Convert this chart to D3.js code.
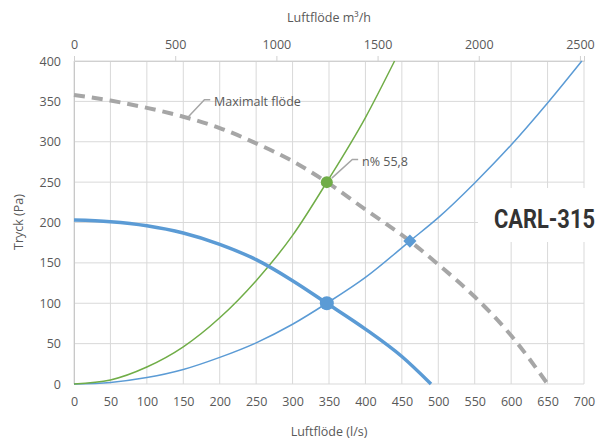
<!DOCTYPE html>
<html><head><meta charset="utf-8">
<script src="https://cdn.jsdelivr.net/npm/d3@7"></script>
<style>
body{margin:0;background:#fff;}
svg text{font-family:"Open Sans","Liberation Sans",sans-serif;fill:#595959;}
</style></head>
<body><svg id="c" width="600" height="441"></svg>
<script>
// Data (flow in l/s, pressure in Pa)
const fanFlow = [0, 50, 100, 150, 200, 250, 300, 347, 400, 450, 490];
const fanPressure = [203, 201, 196, 187, 173, 154, 128, 100, 68, 34, 0];
const sysFlow = [0, 50, 100, 150, 200, 250, 300, 347, 400, 461, 500, 550, 600, 650, 697];
const sysPressure = [0, 2, 8, 18, 33, 51, 74, 100, 132, 177, 206, 249, 296, 348, 400];
const effFlow = [0, 50, 100, 150, 200, 250, 300, 347, 400, 440];
const effPressure = [0, 5, 21, 46, 82, 128, 184, 250, 330, 400];
const maxFlow = [0, 50, 100, 150, 200, 250, 300, 347, 400, 461, 500, 550, 600, 650];
const maxPressure = [358, 351, 342, 331, 317, 298, 276, 250, 216, 177, 148, 108, 60, 0];
const opPoint = {flow: 347, fan: 100, eff: 250};
const maxPoint = {flow: 461, pressure: 177};
const xTicks = [0,50,100,150,200,250,300,350,400,450,500,550,600,650,700];
const yTicks = [0,50,100,150,200,250,300,350,400];
const topTicks = [0,500,1000,1500,2000,2500];
const labels = {top: "Luftflöde m³/h", bottom: "Luftflöde (l/s)", left: "Tryck (Pa)", max: "Maximalt flöde", eff: "n% 55,8", model: "CARL-315"};

const svg = d3.select("#c");
const L = 74, R = 584, T = 61, B = 384;
const x = d3.scaleLinear().domain([0,700]).range([L,R]);
const xTop = d3.scaleLinear().domain([0,2520]).range([L,R]);
const y = d3.scaleLinear().domain([0,400]).range([B,T]);

// grid
const g = svg.append("g");
g.selectAll("line.v").data(xTicks).join("line")
  .attr("x1", d=>x(d)).attr("x2", d=>x(d)).attr("y1", T).attr("y2", B)
  .attr("stroke", "#d9d9d9").attr("stroke-width", 1);
g.selectAll("line.h").data(yTicks).join("line")
  .attr("x1", L).attr("x2", R).attr("y1", d=>y(d)).attr("y2", d=>y(d))
  .attr("stroke", "#d9d9d9").attr("stroke-width", 1);

// axes
const axB = svg.append("g").attr("transform", `translate(0,${B})`)
  .call(d3.axisBottom(x).tickValues(xTicks).tickSize(0).tickPadding(13));
const axL = svg.append("g").attr("transform", `translate(${L},0)`)
  .call(d3.axisLeft(y).tickValues(yTicks).tickSize(0).tickPadding(13));
const axT = svg.append("g").attr("transform", `translate(0,${T})`)
  .call(d3.axisTop(xTop).tickValues(topTicks).tickFormat(d3.format("d")).tickSize(5).tickPadding(7));
[axB, axL, axT].forEach(a => {
  a.select(".domain").attr("stroke", "#d0d0d0");
  a.selectAll(".tick line").attr("stroke", "#d0d0d0");
  a.selectAll("text").style("font-size", "12.5px").attr("fill", "#595959");
});
axB.select(".domain").remove();
axL.select(".domain").attr("stroke", "#c8c8c8");

// titles
svg.append("text").attr("x", 329).attr("y", 22).attr("text-anchor", "middle").style("font-size", "12.5px").text(labels.top);
svg.append("text").attr("x", 329).attr("y", 436).attr("text-anchor", "middle").style("font-size", "12.5px").text(labels.bottom);
svg.append("text").attr("transform", "translate(23,222) rotate(-90)").attr("text-anchor", "middle").style("font-size", "12.5px").text(labels.left);

const line = d3.line().curve(d3.curveMonotoneX);
const pts = (fx, py) => fx.map((f,i)=>[x(f), y(py[i])]);

svg.append("path").attr("d", line(pts(sysFlow, sysPressure))).attr("fill","none").attr("stroke","#5b9bd5").attr("stroke-width",1.5);
svg.append("path").attr("d", line(pts(effFlow, effPressure))).attr("fill","none").attr("stroke","#70ad47").attr("stroke-width",1.5);
svg.append("path").attr("d", line(pts(maxFlow, maxPressure))).attr("fill","none").attr("stroke","#a6a6a6").attr("stroke-width",4).attr("stroke-dasharray","11,7");
svg.append("path").attr("d", line(pts(fanFlow, fanPressure))).attr("fill","none").attr("stroke","#5b9bd5").attr("stroke-width",3.5);

// markers
svg.append("circle").attr("cx", x(opPoint.flow)).attr("cy", y(opPoint.eff)).attr("r", 6).attr("fill", "#70ad47");
svg.append("circle").attr("cx", x(opPoint.flow)).attr("cy", y(opPoint.fan)).attr("r", 7).attr("fill", "#5b9bd5");
svg.append("path").attr("d", d3.symbol().type(d3.symbolDiamond2).size(110)())
  .attr("transform", `translate(${x(maxPoint.flow)},${y(maxPoint.pressure)})`).attr("fill", "#5b9bd5");

// annotations
svg.append("path").attr("d", `M${x(157)},${y(331)} L${x(179)},${y(352)} L${x(187)},${y(352)}`).attr("fill","none").attr("stroke","#a6a6a6").attr("stroke-width",1.5);
svg.append("text").attr("x", 214).attr("y", 106).style("font-size","12.5px").text(labels.max);
svg.append("path").attr("d", `M${x(opPoint.flow)+5},${y(opPoint.eff)-4} L${x(382)},${y(278)} L${x(390)},${y(278)}`).attr("fill","none").attr("stroke","#a6a6a6").attr("stroke-width",1.5);
svg.append("text").attr("x", 362).attr("y", 166).style("font-size","12.5px").text(labels.eff);

// model label
svg.append("rect").attr("x", 478).attr("y", 188).attr("width", 122).attr("height", 54).attr("fill", "#fff");
const mt = svg.append("text").attr("x", 0).attr("y", 0)
  .style("font-family", "'Liberation Sans Narrow','Roboto','Liberation Sans',sans-serif").style("font-weight", "bold").style("font-size", "26px").style("fill","#333")
  .text(labels.model);
const natural = mt.node().getComputedTextLength();
const sx = Math.min(1, 101 / natural);
mt.attr("transform", `translate(494,228) scale(${sx},1)`);
</script></body></html>
